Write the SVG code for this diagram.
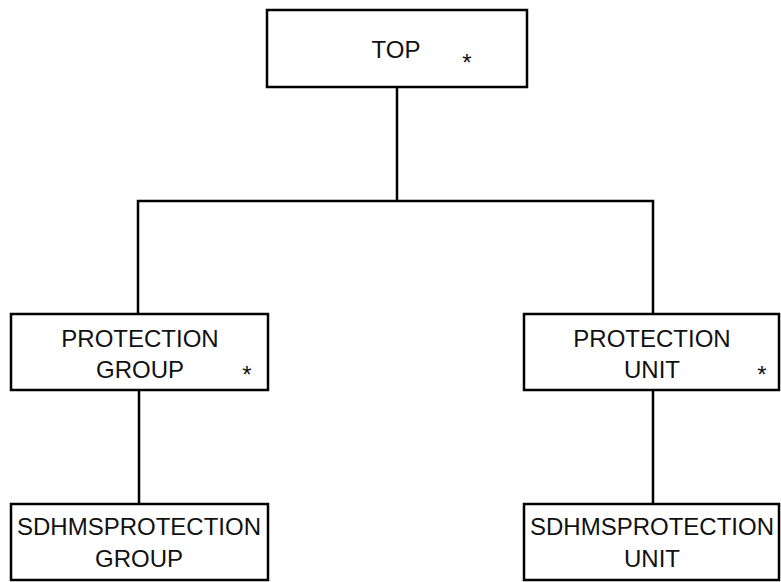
<svg xmlns="http://www.w3.org/2000/svg" width="781" height="582" viewBox="0 0 781 582">
<style>
.box{fill:#fff;stroke:#000;stroke-width:2.5}
.t{font-family:"Liberation Sans",Arial,sans-serif;font-size:24px;fill:#111;text-anchor:middle}
.s{font-family:"Liberation Sans",Arial,sans-serif;font-size:24px;fill:#111;text-anchor:middle}
.c{fill:none;stroke:#000;stroke-width:2.5}
</style>
<rect width="781" height="582" fill="#fff"/>
<g id="connectors">
<path class="c" d="M397,87 V201"/>
<path class="c" d="M138,314 V201 H653 V314"/>
<path class="c" d="M139,390 V504"/>
<path class="c" d="M653,390 V504"/>
</g>
<g id="top">
<rect class="box" x="267" y="10" width="260" height="77"/>
<text class="t" x="396" y="58">TOP</text>
<text class="s" x="467" y="71">*</text>
</g>
<g id="protection-group">
<rect class="box" x="11" y="314" width="257" height="76"/>
<text class="t" x="140" y="347">PROTECTION</text>
<text class="t" x="140" y="378">GROUP</text>
<text class="s" x="247" y="383">*</text>
</g>
<g id="protection-unit">
<rect class="box" x="524" y="314" width="255" height="76"/>
<text class="t" x="652" y="347">PROTECTION</text>
<text class="t" x="652" y="378">UNIT</text>
<text class="s" x="762" y="383">*</text>
</g>
<g id="sdhms-protection-group">
<rect class="box" x="11" y="504" width="257" height="76"/>
<text class="t" x="139" y="535">SDHMSPROTECTION</text>
<text class="t" x="139" y="567">GROUP</text>
</g>
<g id="sdhms-protection-unit">
<rect class="box" x="524" y="504" width="255" height="76"/>
<text class="t" x="652" y="535">SDHMSPROTECTION</text>
<text class="t" x="652" y="567">UNIT</text>
</g>
</svg>
